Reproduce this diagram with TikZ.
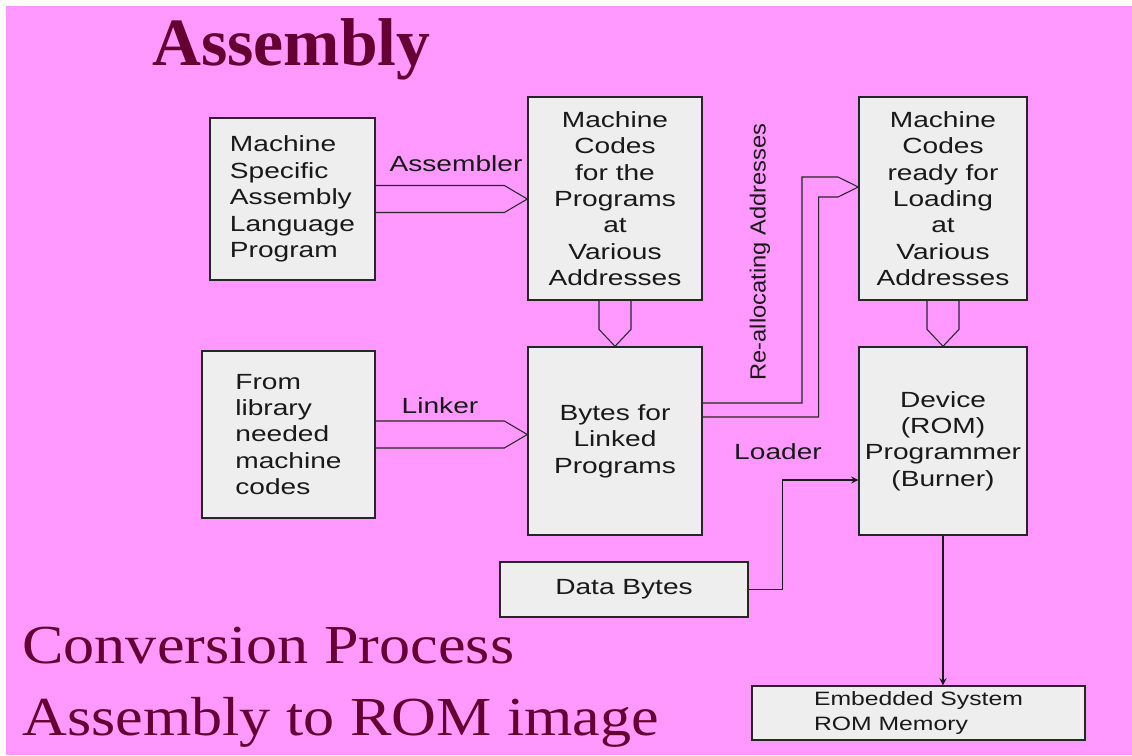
\documentclass[tikz,border=0pt]{standalone}
\usepackage{fontspec}
\setmainfont{Liberation Serif}
\newfontfamily\slidefont[FakeStretch=1.13]{Liberation Serif}
\newfontfamily\boxfont[FakeStretch=1.28]{Liberation Sans}
\newfontfamily\sidefont[FakeStretch=1.08]{Liberation Sans}
\usetikzlibrary{calc}

\definecolor{slidepink}{RGB}{255,153,255}
\definecolor{boxgray}{RGB}{238,238,238}
\definecolor{titlered}{RGB}{102,0,51}

\tikzset{
    blk/.style={draw=black!85, line width=0.8pt, fill=boxgray, inner sep=0pt,
        text=black!90, font=\boxfont\fontsize{12.5}{15}\selectfont, align=center},
    fat/.style={draw=black!85, line width=0.6pt},
    lbl/.style={text=black!90, font=\boxfont\fontsize{12.5}{15}\selectfont},
    bigtxt/.style={text=titlered, anchor=base west, inner sep=0pt}
}

% wide arrow pointing right, from the east side of #1 to the west side of #2
\newcommand{\fatright}[2]{%
    \draw[fat] ($(#1.east)+(0,-13.5)$) -- ($(#2.west |- #1.east)+(-23,-13.5)$)
        -- (#2.west |- #1.east) -- ($(#2.west |- #1.east)+(-23,13.5)$) -- ($(#1.east)+(0,13.5)$);}
% wide arrow pointing down, from #1 to #2
\newcommand{\fatdown}[2]{%
    \draw[fat] ($(#1.south)+(-16,0)$) -- ($(#2.north)+(-16,-17)$) -- (#2.north)
        -- ($(#2.north)+(16,-17)$) -- ($(#1.south)+(16,0)$);}

\begin{document}
\begin{tikzpicture}[x=0.02cm, y=-0.02cm]
    \useasboundingbox (0,0) rectangle (1132,755);
    \fill[slidepink] (6,6) rectangle (1132,755);

    \node[bigtxt, font=\bfseries\fontsize{38.5}{46}\selectfont] (title) at (152,65) {Assembly};
    \node[bigtxt, font=\slidefont\fontsize{31.3}{38}\selectfont] (conv) at (22,663) {Conversion Process};
    \node[bigtxt, font=\slidefont\fontsize{31.3}{38}\selectfont] (torom) at (22,735) {Assembly to ROM image};

    \node[blk, align=left, minimum width=3.3cm, minimum height=3.24cm] (asm) at (292.5,199)
        {Machine\\Specific\\Assembly\\Language\\Program};
    \node[blk, minimum width=3.48cm, minimum height=4.06cm] (mcode) at (615,198.5)
        {Machine\\Codes\\for the\\Programs\\at\\Various\\Addresses};
    \node[blk, minimum width=3.36cm, minimum height=4.06cm] (mready) at (943,198.5)
        {Machine\\Codes\\ready for\\Loading\\at\\Various\\Addresses};
    \node[blk, align=left, minimum width=3.46cm, minimum height=3.34cm] (lib) at (288.5,434.5)
        {From\\library\\needed\\machine\\codes};
    \node[blk, minimum width=3.48cm, minimum height=3.76cm] (linked) at (615,441)
        {Bytes for\\Linked\\Programs};
    \node[blk, minimum width=3.36cm, minimum height=3.76cm] (burner) at (943,441)
        {Device\\(ROM)\\Programmer\\(Burner)};
    \node[blk, minimum width=4.96cm, minimum height=1.1cm] (data) at (624,589.5) {Data Bytes};
    \node[blk, align=left, font=\boxfont\fontsize{11}{14}\selectfont,
        minimum width=6.66cm, minimum height=1.08cm] (rom) at (918.5,713)
        {Embedded System\\ROM Memory};

    \fatright{asm}{mcode}
    \fatright{lib}{linked}
    \fatdown{mcode}{linked}
    \fatdown{mready}{burner}

    % re-allocating arrow, bent twice
    \coordinate (tip) at ($(mready.west)+(0,-11.5)$);
    \draw[fat] ($(linked.east)+(0,-38)$) -| (802,177) -- (838,177) -- (tip)
        -- (838,197) -| ($(linked.east)+(116,-24)$) -- ($(linked.east)+(0,-24)$);

    \draw[-stealth, line width=0.8pt, black!90] (data.east) -- ++(34,0) |- ($(burner.west)+(0,39)$);
    \draw[-stealth, line width=0.8pt, black!90] (burner.south) -- (burner.south |- rom.north);

    \node[lbl, anchor=base] (lasm) at (456,171) {Assembler};
    \node[lbl, anchor=base] (llink) at (440,413) {Linker};
    \node[lbl, anchor=base] (lload) at (778,459) {Loader};
    \node[lbl, font=\sidefont\fontsize{12.5}{15}\selectfont, rotate=90] (lrealloc) at (760,252)
        {Re-allocating Addresses};
\end{tikzpicture}
\end{document}
